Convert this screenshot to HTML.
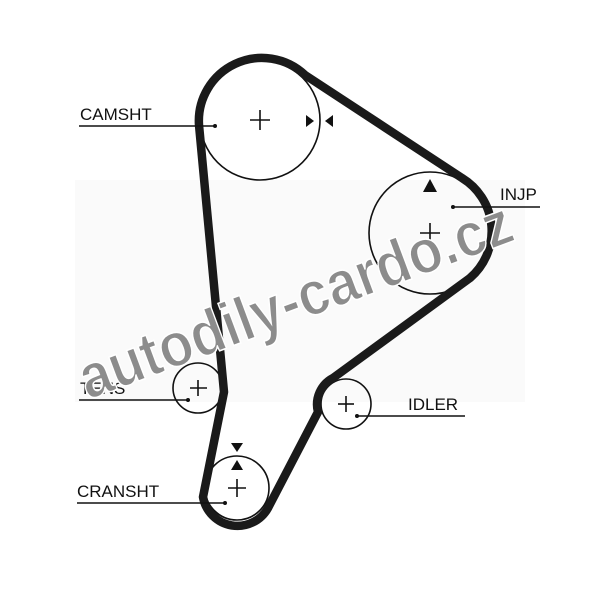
<!DOCTYPE html>
<html><head><meta charset="utf-8"><style>
html,body{margin:0;padding:0;background:#fff;width:600px;height:589px;overflow:hidden}
</style></head><body>
<svg width="600" height="589" viewBox="0 0 600 589" xmlns="http://www.w3.org/2000/svg" font-family="Liberation Sans, sans-serif">
<rect width="600" height="589" fill="#fff"/>
<rect x="75" y="180" width="450" height="222" fill="#fafafa"/>
<g fill="none" stroke="#111" stroke-width="1.6">
<circle cx="260" cy="120" r="60"/>
<circle cx="430" cy="233" r="61"/>
<circle cx="198" cy="388" r="25"/>
<circle cx="346" cy="404" r="25"/>
<circle cx="237" cy="488" r="32"/>
</g>
<path d="M 199 125 A 63 63 0 0 1 305 75 L 462 178 A 62 62 0 0 1 470 278 L 333 378 A 30 30 0 0 0 318 412 L 268 508 A 35 35 0 0 1 203 497 L 224 392 Z" fill="none" stroke="#1a1a1a" stroke-width="8.5" stroke-linejoin="round"/>
<g stroke="#111" stroke-width="1.6">
<line x1="250" y1="120" x2="270" y2="120"/><line x1="260" y1="110" x2="260" y2="130"/>
<line x1="420" y1="233" x2="440" y2="233"/><line x1="430" y1="223" x2="430" y2="243"/>
<line x1="190" y1="388" x2="207" y2="388"/><line x1="198" y1="380" x2="198" y2="396"/>
<line x1="338" y1="404" x2="354" y2="404"/><line x1="346" y1="396" x2="346" y2="412"/>
<line x1="228" y1="488" x2="246" y2="488"/><line x1="237" y1="479" x2="237" y2="497"/>
<line x1="79" y1="126" x2="215" y2="126"/>
<line x1="453" y1="207" x2="540" y2="207"/>
<line x1="79" y1="400" x2="188" y2="400"/>
<line x1="357" y1="416" x2="465" y2="416"/>
<line x1="77" y1="503" x2="225" y2="503"/>
</g>
<g fill="#111">
<polygon points="306,115 306,127 314,121"/><polygon points="333,115 333,127 325,121"/>
<polygon points="423,192 437,192 430,179"/>
<polygon points="231,443 243,443 237,452"/><polygon points="231,470 243,470 237,460"/>
<circle cx="215" cy="126" r="2"/><circle cx="453" cy="207" r="2"/><circle cx="188" cy="400" r="2"/><circle cx="357" cy="416" r="2"/><circle cx="225" cy="503" r="2"/>
</g>
<g font-size="17" fill="#111">
<text x="80" y="120">CAMSHT</text>
<text x="500" y="200">INJP</text>
<text x="80" y="394">TENS</text>
<text x="408" y="410">IDLER</text>
<text x="77" y="497">CRANSHT</text>
</g>
<text x="0" y="0" transform="translate(88,400) rotate(-20.5)" font-size="62" font-weight="bold" fill="#8c8c8c" stroke="#fff" stroke-width="1.5" textLength="458" lengthAdjust="spacingAndGlyphs">autodily-cardo.cz</text>
</svg>
</body></html>
